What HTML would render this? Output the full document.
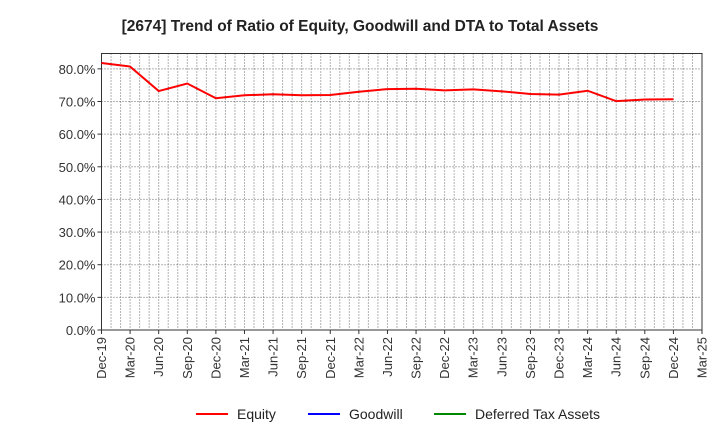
<!DOCTYPE html>
<html><head><meta charset="utf-8"><style>
body{margin:0;background:#fff;font-family:"Liberation Sans",sans-serif}
</style></head><body>
<svg width="720" height="440" xmlns="http://www.w3.org/2000/svg">
<text x="360" y="31" text-anchor="middle" font-size="15.5" font-weight="bold" fill="#222">[2674]  Trend of Ratio of Equity, Goodwill and DTA to Total Assets</text>
<g id="grid"></g><g id="axes"></g><g id="series"></g>
<g font-size="14" fill="#222">
<line x1="196" y1="414" x2="228" y2="414" stroke="#f00" stroke-width="2"/><text x="237" y="419">Equity</text>
<line x1="308" y1="414" x2="340" y2="414" stroke="#00f" stroke-width="2"/><text x="349" y="419">Goodwill</text>
<line x1="434" y1="414" x2="466" y2="414" stroke="#080" stroke-width="2"/><text x="475" y="419">Deferred Tax Assets</text>
</g>
</svg>
<script>
const xLabels=["Dec-19","Mar-20","Jun-20","Sep-20","Dec-20","Mar-21","Jun-21","Sep-21","Dec-21","Mar-22","Jun-22","Sep-22","Dec-22","Mar-23","Jun-23","Sep-23","Dec-23","Mar-24","Jun-24","Sep-24","Dec-24","Mar-25"];
const equity=[81.8,80.7,73.2,75.5,71.0,71.9,72.2,71.9,72.0,73.0,73.8,73.9,73.4,73.7,73.1,72.3,72.1,73.3,70.1,70.6,70.7];
const yTicks=[0,10,20,30,40,50,60,70,80];
const L=101.5,R=702,T=53.5,B=330,yMax=84.7;
const NS="http://www.w3.org/2000/svg";
const xq=i=>L+(R-L)*i/(xLabels.length-1);
const xm=m=>L+(R-L)*m/((xLabels.length-1)*3);
const y=v=>B-(B-T)*v/yMax;
function mk(t,a,p){const e=document.createElementNS(NS,t);for(const k in a)e.setAttribute(k,a[k]);p.appendChild(e);return e;}
const g=document.getElementById('grid'),ax=document.getElementById('axes'),s=document.getElementById('series');
for(let m=1;m<(xLabels.length-1)*3;m++){const e=mk('line',{x1:xm(m),x2:xm(m),y1:T,y2:B,stroke:'#666','stroke-width':1,'stroke-dasharray':'1,2'},g);

}
yTicks.forEach(v=>{if(v>0){const e=mk('line',{x1:L,x2:R,y1:y(v),y2:y(v),stroke:'#666','stroke-width':1,'stroke-dasharray':'1,2'},g);

}
const t=mk('text',{x:L-6,y:y(v)+5,'text-anchor':'end','font-size':13,fill:'#333'},ax);t.textContent=v.toFixed(1)+'%';


mk('line',{x1:L-4,x2:L,y1:y(v),y2:y(v),stroke:'#333'},ax);});
xLabels.forEach((l,i)=>{const x=xq(i);mk('line',{x1:x,x2:x,y1:B,y2:B+4,stroke:'#333'},ax);
const t=mk('text',{x:x+4.5,y:B+7,'text-anchor':'end','font-size':13,fill:'#333',transform:`rotate(-90 ${x+4.5} ${B+7})`},ax);t.textContent=l;

});
const fr=mk('rect',{x:L,y:T,width:R-L,height:B-T,fill:'none',stroke:'#333','stroke-width':1},ax);


const p=mk('polyline',{points:equity.map((v,i)=>xq(i)+','+y(v)).join(' '),fill:'none',stroke:'#f00','stroke-width':2},s);


</script>
</body></html>
